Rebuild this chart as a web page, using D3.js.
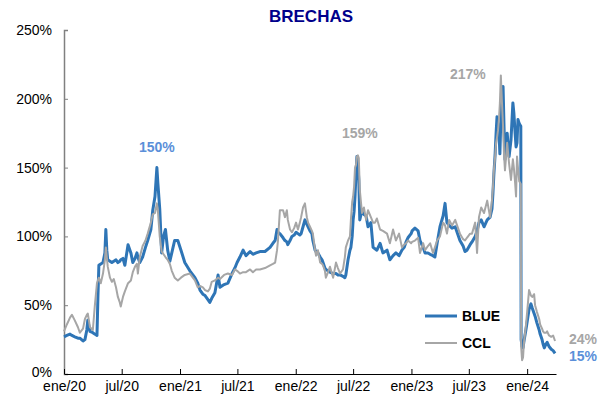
<!DOCTYPE html>
<html lang="es">
<head>
  <meta charset="UTF-8">
  <title>Brechas</title>
  <script src="https://d3js.org/d3.v7.min.js"></script>
  <style>
    body { margin: 0; background: #fff; }
    svg text { font-family: "Liberation Sans", Arial, sans-serif; }
  </style>
</head>
<body>
  <div id="chart"></div>

  <script>
    // Fechas y brechas (%)
    const dates = [
      "2020-01-01","2020-01-10","2020-01-20","2020-01-26","2020-02-04","2020-02-14","2020-02-20","2020-03-01",
      "2020-03-07","2020-03-13","2020-03-16","2020-03-23","2020-04-01","2020-04-07","2020-04-14","2020-04-17",
      "2020-04-20","2020-04-26","2020-05-03","2020-05-09","2020-05-12","2020-05-15","2020-05-18","2020-05-25",
      "2020-05-31","2020-06-06","2020-06-13","2020-06-19","2020-06-25","2020-06-28","2020-07-05","2020-07-11",
      "2020-07-21","2020-07-30","2020-08-05","2020-08-12","2020-08-18","2020-08-21","2020-08-27","2020-09-05",
      "2020-09-14","2020-09-21","2020-10-01","2020-10-07","2020-10-14","2020-10-20","2020-10-23","2020-10-29",
      "2020-11-04","2020-11-10","2020-11-16","2020-11-23","2020-11-30","2020-12-06","2020-12-15","2020-12-25",
      "2021-01-04","2021-01-16","2021-02-01","2021-02-17","2021-02-26","2021-03-05","2021-03-14","2021-03-21",
      "2021-03-30","2021-04-05","2021-04-11","2021-04-21","2021-05-01","2021-05-07","2021-05-20","2021-06-01",
      "2021-06-14","2021-06-23","2021-06-30","2021-07-09","2021-07-19","2021-07-28","2021-08-10","2021-08-19",
      "2021-08-29","2021-09-10","2021-09-26","2021-10-12","2021-10-21","2021-10-28","2021-11-03","2021-11-06",
      "2021-11-12","2021-11-22","2021-11-28","2021-12-04","2021-12-07","2021-12-14","2021-12-20","2021-12-27",
      "2022-01-02","2022-01-08","2022-01-14","2022-01-18","2022-01-24","2022-01-30","2022-02-05","2022-02-09",
      "2022-02-15","2022-02-21","2022-02-24","2022-03-03","2022-03-06","2022-03-12","2022-03-19","2022-03-25",
      "2022-03-28","2022-04-03","2022-04-06","2022-04-13","2022-04-19","2022-04-29","2022-05-08","2022-05-14",
      "2022-05-21","2022-05-30","2022-06-05","2022-06-08","2022-06-15","2022-06-21","2022-06-24","2022-06-28",
      "2022-07-01","2022-07-04","2022-07-07","2022-07-10","2022-07-13","2022-07-16","2022-07-19","2022-07-22",
      "2022-07-29","2022-08-04","2022-08-11","2022-08-17","2022-08-26","2022-09-02","2022-09-08","2022-09-14",
      "2022-09-24","2022-10-03","2022-10-16","2022-10-25","2022-11-04","2022-11-13","2022-11-23","2022-12-02",
      "2022-12-09","2022-12-15","2022-12-21","2022-12-31","2023-01-03","2023-01-12","2023-01-22","2023-01-28",
      "2023-02-07","2023-02-13","2023-02-22","2023-03-01","2023-03-10","2023-03-16","2023-03-23","2023-04-01",
      "2023-04-11","2023-04-17","2023-04-23","2023-04-30","2023-05-09","2023-05-19","2023-05-28","2023-06-03",
      "2023-06-13","2023-06-19","2023-06-25","2023-07-05","2023-07-11","2023-07-21","2023-07-27","2023-08-02",
      "2023-08-09","2023-08-18","2023-08-28","2023-09-06","2023-09-12","2023-09-15","2023-09-18","2023-09-22",
      "2023-09-25","2023-09-28","2023-10-01","2023-10-04","2023-10-07","2023-10-10","2023-10-13","2023-10-17",
      "2023-10-20","2023-10-23","2023-10-30","2023-11-05","2023-11-11","2023-11-17","2023-11-20","2023-11-24",
      "2023-11-27","2023-11-30","2023-12-03","2023-12-07","2023-12-12","2023-12-13","2023-12-16","2023-12-19",
      "2023-12-22","2023-12-28","2024-01-01","2024-01-07","2024-01-13","2024-01-17","2024-01-23","2024-01-26",
      "2024-02-01","2024-02-08","2024-02-11","2024-02-17","2024-02-20","2024-02-24","2024-03-01","2024-03-04",
      "2024-03-10","2024-03-17","2024-03-23","2024-03-29"
    ];

    const blue = [
      27, 28, 29, 28, 27, 26, 26, 24, 25, 32, 39, 31, 30, 29, 28, 56,
      79, 80, 81, 88, 105, 90, 83, 82, 81, 82, 83, 81, 82, 83, 84, 79,
      94, 88, 81, 84, 88, 85, 81, 85, 92, 97, 105, 119, 129, 150, 139, 120,
      88, 100, 105, 90, 82, 88, 97, 97, 90, 81, 75, 70, 66, 61, 58, 57,
      54, 52, 55, 59, 72, 63, 65, 66, 73, 77, 81, 85, 90, 86, 89, 87,
      88, 89, 89, 92, 95, 97, 105, 103, 102, 99, 97, 96, 94, 97, 100, 101,
      103, 102, 101, 102, 107, 112, 109, 107, 104, 102, 97, 90, 89, 88, 85, 83,
      81, 77, 76, 75, 74, 73, 73, 72, 72, 71, 70, 72, 83, 90, 92, 100,
      112, 118, 129, 145, 158, 152, 141, 112, 119, 116, 115, 107, 110, 92, 91, 90,
      95, 88, 90, 83, 86, 88, 86, 90, 92, 96, 99, 102, 104, 106, 104, 97,
      92, 88, 88, 87, 86, 85, 95, 107, 115, 124, 110, 108, 106, 107, 101, 97,
      93, 89, 90, 94, 96, 100, 104, 110, 112, 107, 112, 114, 120, 131, 145, 160,
      175, 187, 180, 177, 160, 185, 200, 209, 180, 156, 175, 158, 170, 197, 190, 175,
      165, 168, 185, 182, 180, 25, 20, 19, 24, 32, 38, 47, 51, 48, 44, 42,
      37, 32, 29, 25, 22, 19, 22, 23, 20, 18, 17, 15
    ];

    const ccl = [
      31, 36, 41, 43, 39, 34, 30, 33, 40, 43, 44, 34, 32, 49, 66, 68,
      70, 66, 73, 83, 92, 85, 78, 70, 67, 69, 63, 56, 52, 49, 56, 60,
      66, 68, 74, 78, 80, 73, 85, 93, 97, 102, 110, 116, 117, 124, 119, 100,
      89, 87, 85, 83, 80, 75, 70, 68, 70, 72, 73, 68, 63, 64, 63, 61,
      60, 62, 67, 68, 70, 69, 72, 73, 72, 76, 75, 73, 74, 74, 76, 74,
      76, 76, 77, 79, 80, 81, 90, 97, 119, 119, 114, 119, 112, 105, 103, 106,
      110, 105, 110, 114, 121, 124, 114, 110, 107, 104, 102, 90, 86, 90, 81, 80,
      79, 75, 70, 74, 78, 70, 81, 77, 73, 76, 85, 92, 97, 100, 112, 125,
      129, 136, 150, 152, 158, 159, 157, 134, 117, 121, 112, 119, 114, 110, 110, 113,
      105, 104, 102, 95, 105, 97, 102, 92, 94, 95, 97, 95, 96, 97, 99, 88,
      95, 90, 93, 95, 88, 92, 97, 100, 110, 108, 102, 112, 108, 112, 106, 102,
      98, 97, 99, 102, 102, 110, 88, 114, 121, 117, 126, 114, 126, 135, 148, 158,
      168, 172, 177, 185, 197, 217, 200, 180, 160, 148, 168, 153, 141, 156, 150, 139,
      129, 158, 150, 140, 138, 20, 10, 12, 23, 35, 45, 61, 57, 56, 58, 50,
      45, 40, 36, 33, 31, 30, 30, 31, 28, 27, 28, 24
    ];

    const yTicks = [0, 50, 100, 150, 200, 250];
    const xTickDates = ["2020-01-01","2020-07-01","2021-01-01","2021-07-01","2022-01-01",
                        "2022-07-01","2023-01-01","2023-07-01","2024-01-01"];
    const xTickLabels = ["ene/20","jul/20","ene/21","jul/21","ene/22","jul/22","ene/23","jul/23","ene/24"];

    // anotaciones: texto, serie, fecha
    const notes = [
      { text: "150%", series: "blue", date: "2020-10-20", value: 150 },
      { text: "159%", series: "ccl",  date: "2022-07-16", value: 159 },
      { text: "217%", series: "ccl",  date: "2023-10-10", value: 217 },
      { text: "24%",  series: "ccl",  date: "2024-03-29", value: 24 },
      { text: "15%",  series: "blue", date: "2024-03-29", value: 15 }
    ];

    const parse = d3.timeParse("%Y-%m-%d");
    const blueColor = "#2e75b6";
    const grayColor = "#a6a6a6";
    const blueLabel = "#5b8fd9";

    drawChart();

    function drawChart() {
      const width = 601, height = 400;

      const svg = d3.select("#chart")
        .append("svg")
        .attr("width", width)
        .attr("height", height);

      const x = d3.scaleTime()
        .domain([parse("2020-01-01"), parse("2024-04-01")])
        .range([64, 556]);

      const y = d3.scaleLinear()
        .domain([0, 250])
        .range([374, 30]);

      // titulo
      svg.append("text")
        .attr("x", 311)
        .attr("y", 22)
        .attr("text-anchor", "middle")
        .style("font-size", "17px")
        .style("font-weight", "bold")
        .style("fill", "#00008b")
        .text("BRECHAS");

      // eje y
      const yAxis = d3.axisLeft(y)
        .tickValues(yTicks)
        .tickSize(-4)
        .tickPadding(12)
        .tickFormat(d => d + "%");

      const gy = svg.append("g")
        .attr("transform", "translate(64,0)")
        .call(yAxis);
      gy.select(".domain").attr("stroke", "#808080").attr("stroke-width", 1.5);
      gy.selectAll(".tick line").attr("stroke", "#808080");
      gy.selectAll("text").style("font-size", "14px").style("fill", "#000");
      // 0% un poco mas arriba para no tocar ene/20
      gy.selectAll(".tick text").filter(d => d === 0).attr("dy", "0.2em");

      // eje x
      const xAxis = d3.axisBottom(x)
        .tickValues(xTickDates.map(parse))
        .tickSize(-5)
        .tickSizeOuter(0)
        .tickPadding(7)
        .tickFormat((d, i) => xTickLabels[i]);

      const gx = svg.append("g")
        .attr("transform", "translate(0,374)")
        .call(xAxis);
      gx.select(".domain").attr("stroke", "#000").attr("stroke-width", 1.2);
      gx.selectAll(".tick line").attr("stroke", "#000");
      gx.selectAll("text").style("font-size", "14px").style("fill", "#000");

      const rows = dates.map((d, i) => ({ date: parse(d), blue: blue[i], ccl: ccl[i] }));

      const blueLine = d3.line().x(d => x(d.date)).y(d => y(d.blue));
      const cclLine = d3.line().x(d => x(d.date)).y(d => y(d.ccl));

      svg.append("path")
        .datum(rows)
        .attr("fill", "none")
        .attr("stroke", blueColor)
        .attr("stroke-width", 3)
        .attr("stroke-linejoin", "round")
        .attr("d", blueLine);

      svg.append("path")
        .datum(rows)
        .attr("fill", "none")
        .attr("stroke", grayColor)
        .attr("stroke-width", 2)
        .attr("stroke-linejoin", "round")
        .attr("d", cclLine);

      // anotaciones
      const offsets = {
        "150%": { dx: 0, dy: -16, anchor: "middle" },
        "159%": { dx: 2, dy: -17, anchor: "middle" },
        "217%": { dx: -33, dy: 4, anchor: "middle" },
        "24%":  { dx: 14, dy: 3, anchor: "start" },
        "15%":  { dx: 14, dy: 8, anchor: "start" }
      };

      notes.forEach(n => {
        const o = offsets[n.text];
        svg.append("text")
          .attr("x", x(parse(n.date)) + o.dx)
          .attr("y", y(n.value) + o.dy)
          .attr("text-anchor", o.anchor)
          .style("font-size", "14px")
          .style("font-weight", "bold")
          .style("fill", n.series === "blue" ? blueLabel : grayColor)
          .text(n.text);
      });

      // leyenda
      const legend = [
        { name: "BLUE", color: blueColor, w: 3, y: 316 },
        { name: "CCL", color: grayColor, w: 2, y: 343 }
      ];
      legend.forEach(l => {
        svg.append("line")
          .attr("x1", 425).attr("x2", 457)
          .attr("y1", l.y).attr("y2", l.y)
          .attr("stroke", l.color)
          .attr("stroke-width", l.w);
        svg.append("text")
          .attr("x", 462)
          .attr("y", l.y + 5)
          .style("font-size", "14px")
          .style("font-weight", "bold")
          .style("fill", "#000")
          .text(l.name);
      });
    }
  </script>
</body>
</html>
